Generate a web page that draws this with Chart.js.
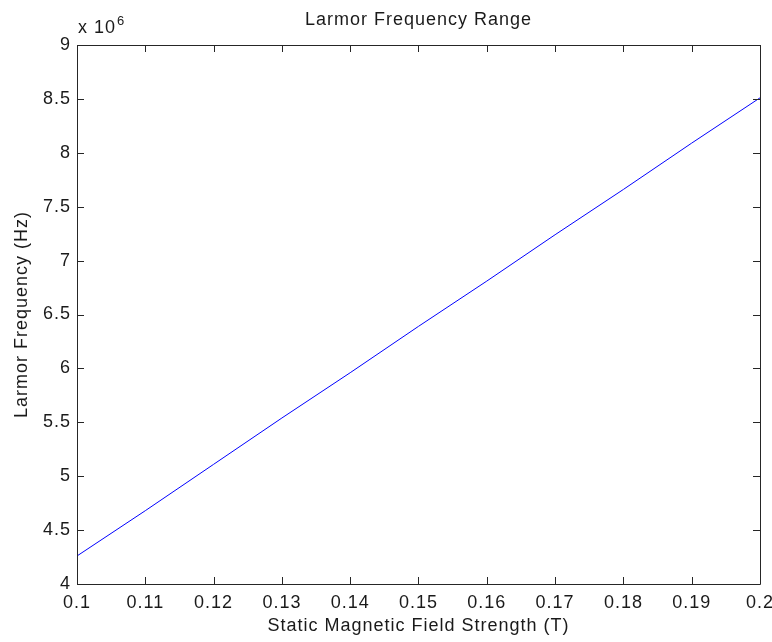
<!DOCTYPE html>
<html>
<head>
<meta charset="utf-8">
<script src="https://cdn.jsdelivr.net/npm/chart.js@4"></script>
<style>
  html, body { margin: 0; padding: 0; background: #fff; }
  #c { display: block; }
</style>
</head>
<body>
<canvas id="c" width="772" height="642"></canvas>
<script>
// ---- data ----
const fieldStrength = [0.10, 0.11, 0.12, 0.13, 0.14, 0.15, 0.16, 0.17, 0.18, 0.19, 0.20];
const larmorHz = [4.26e6, 4.68e6, 5.11e6, 5.54e6, 5.96e6, 6.39e6, 6.81e6, 7.24e6, 7.66e6, 8.09e6, 8.51e6];
const xTicks = [0.10, 0.11, 0.12, 0.13, 0.14, 0.15, 0.16, 0.17, 0.18, 0.19, 0.20];
const xTickLabels = ['0.1', '0.11', '0.12', '0.13', '0.14', '0.15', '0.16', '0.17', '0.18', '0.19', '0.2'];
const yTicks = [4e6, 4.5e6, 5e6, 5.5e6, 6e6, 6.5e6, 7e6, 7.5e6, 8e6, 8.5e6, 9e6];
const yTickLabels = ['4', '4.5', '5', '5.5', '6', '6.5', '7', '7.5', '8', '8.5', '9'];
const titleText = 'Larmor Frequency Range';
const xTitle = 'Static Magnetic Field Strength (T)';
const yTitle = 'Larmor Frequency (Hz)';
const exponentBase = 'x 10';
const exponentPower = '6';

const FONT = "'Liberation Sans', Arial, sans-serif";
const TEXT = '#1a1a1a';
const AXIS = '#262626';

const spacingPlugin = {
  id: 'spacing',
  beforeUpdate(chart) { chart.ctx.letterSpacing = '1px'; },
  beforeDraw(chart) { chart.ctx.letterSpacing = '1px'; }
};

const boxPlugin = {
  id: 'box',
  afterDraw(chart) {
    const ctx = chart.ctx;
    const a = chart.chartArea;
    const xs = chart.scales.x, ys = chart.scales.y;
    const tl = 7;
    ctx.save();
    ctx.strokeStyle = AXIS;
    ctx.lineWidth = 1;
    ctx.beginPath();
    ctx.rect(Math.round(a.left) + 0.5, Math.round(a.top) + 0.5,
             Math.round(a.right - a.left), Math.round(a.bottom - a.top));
    ctx.stroke();
    ctx.beginPath();
    xTicks.forEach(v => {
      const px = Math.round(xs.getPixelForValue(v)) + 0.5;
      ctx.moveTo(px, a.bottom); ctx.lineTo(px, a.bottom - tl);
      ctx.moveTo(px, a.top); ctx.lineTo(px, a.top + tl);
    });
    yTicks.forEach(v => {
      const py = Math.round(ys.getPixelForValue(v)) + 0.5;
      ctx.moveTo(a.left, py); ctx.lineTo(a.left + tl, py);
      ctx.moveTo(a.right, py); ctx.lineTo(a.right - tl, py);
    });
    ctx.stroke();
    // exponent label
    ctx.fillStyle = TEXT;
    ctx.letterSpacing = '1px';
    ctx.textBaseline = 'alphabetic';
    ctx.textAlign = 'left';
    ctx.font = '18px ' + FONT;
    ctx.fillText(exponentBase, a.left + 1, a.top - 12);
    const w = ctx.measureText(exponentBase).width;
    ctx.font = '13px ' + FONT;
    ctx.fillText(exponentPower, a.left + 1 + w + 1, a.top - 20);
    ctx.restore();
  }
};

new Chart(document.getElementById('c'), {
  type: 'line',
  data: {
    datasets: [{
      data: fieldStrength.map((x, i) => ({ x: x, y: larmorHz[i] })),
      borderColor: '#0000ff',
      borderWidth: 1,
      pointRadius: 0,
      tension: 0,
      fill: false
    }]
  },
  options: {
    responsive: false,
    animation: false,
    devicePixelRatio: 1,
    layout: { padding: { left: 0, right: 12, top: 0, bottom: 0 } },
    plugins: {
      legend: { display: false },
      tooltip: { enabled: false },
      title: {
        display: true,
        text: titleText,
        fullSize: false,
        color: TEXT,
        font: { family: FONT, size: 18, weight: 'normal' },
        padding: { top: 9, bottom: 14.4 }
      }
    },
    scales: {
      x: {
        type: 'linear',
        min: 0.1,
        max: 0.2,
        afterFit(s) { s.height = 58; s.paddingLeft = 0; s.paddingRight = 0; },
        afterBuildTicks(s) { s.ticks = xTicks.map(v => ({ value: v })); },
        grid: { display: false, drawTicks: false },
        border: { display: false },
        ticks: {
          color: TEXT,
          font: { family: FONT, size: 18 },
          padding: 8,
          maxRotation: 0,
          autoSkip: false,
          callback: (v, i) => xTickLabels[i]
        },
        title: {
          display: true,
          text: xTitle,
          color: TEXT,
          font: { family: FONT, size: 18 },
          padding: { top: 0, bottom: 5 }
        }
      },
      y: {
        type: 'linear',
        min: 4e6,
        max: 9e6,
        afterFit(s) { s.width = 77; s.paddingTop = 0; s.paddingBottom = 0; },
        afterBuildTicks(s) { s.ticks = yTicks.map(v => ({ value: v })); },
        grid: { display: false, drawTicks: false },
        border: { display: false },
        ticks: {
          color: TEXT,
          font: { family: FONT, size: 18 },
          padding: 6,
          autoSkip: false,
          callback: (v, i) => yTickLabels[i]
        },
        title: {
          display: true,
          text: yTitle,
          color: TEXT,
          font: { family: FONT, size: 18 },
          padding: { top: 11, bottom: 0 }
        }
      }
    }
  },
  plugins: [spacingPlugin, boxPlugin]
});
</script>
</body>
</html>
